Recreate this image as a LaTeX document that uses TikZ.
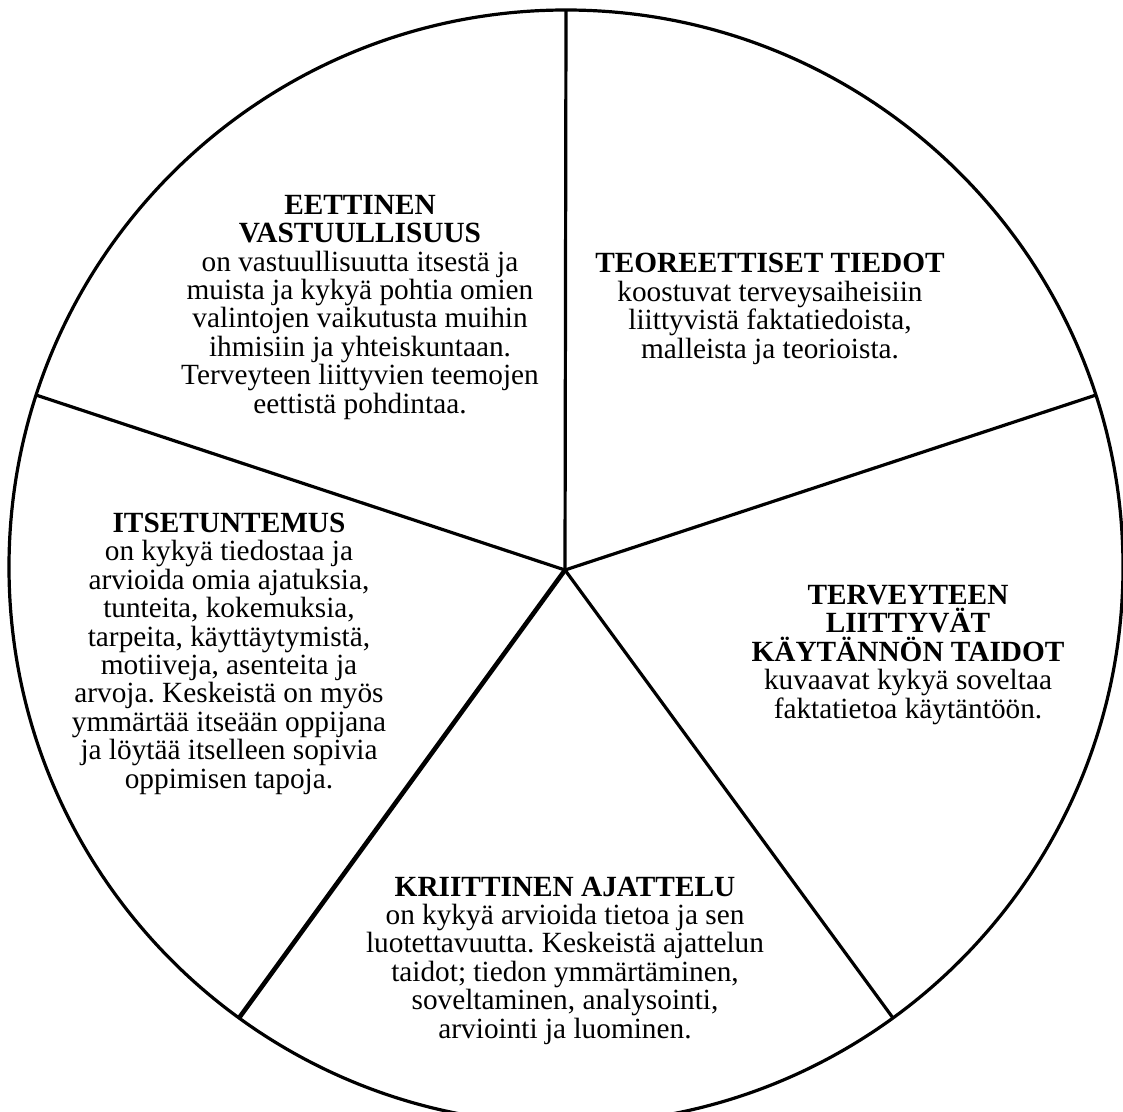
\documentclass[tikz,border=0pt]{standalone}
\usepackage{fontspec}
\setmainfont{Liberation Serif}
\frenchspacing
\begin{document}
\begin{tikzpicture}[x=1pt,y=-1pt,line width=3.2pt,
  lbl/.style={align=center,anchor=base,inner sep=0pt,font=\fontsize{29.3}{28.4}\selectfont}]
\useasboundingbox (0,0) rectangle (1123,1111);
\clip (0,0) rectangle (1123,1111);
\coordinate (O) at (566,567);
\coordinate (H) at (565,570);
\coordinate (P1) at (566,10);
\coordinate (P2) at (1096,395);
\coordinate (P3) at (893,1018);
\coordinate (P4) at (239,1018);
\coordinate (P5) at (36,395);
\draw (O) circle[radius=557];
\draw (H) -- (P1);
\draw (H) -- (P2);
\draw (H) -- (P3);
\draw[line width=4.6pt] (H) -- (P4);
\draw (H) -- (P5);
\node[lbl] (eet) at (360,413) {\textbf{EETTINEN}\\\textbf{VASTUULLISUUS}\\on vastuullisuutta itsestä ja\\muista ja kykyä pohtia omien\\valintojen vaikutusta muihin\\ihmisiin ja yhteiskuntaan.\\Terveyteen liittyvien teemojen\\eettistä pohdintaa.};
\node[lbl] (teo) at (770,358) {\textbf{TEOREETTISET TIEDOT}\\koostuvat terveysaiheisiin\\liittyvistä faktatiedoista,\\malleista ja teorioista.};
\node[lbl] (ter) at (908,718) {\textbf{TERVEYTEEN}\\\textbf{LIITTYVÄT}\\\textbf{KÄYTÄNNÖN TAIDOT}\\kuvaavat kykyä soveltaa\\faktatietoa käytäntöön.};
\node[lbl] (kri) at (565,1038) {\textbf{KRIITTINEN AJATTELU}\\on kykyä arvioida tietoa ja sen\\luotettavuutta. Keskeistä ajattelun\\taidot; tiedon ymmärtäminen,\\soveltaminen, analysointi,\\arviointi ja luominen.};
\node[lbl] (its) at (229,788) {\textbf{ITSETUNTEMUS}\\on kykyä tiedostaa ja\\arvioida omia ajatuksia,\\tunteita, kokemuksia,\\tarpeita, käyttäytymistä,\\motiiveja, asenteita ja\\arvoja. Keskeistä on myös\\ymmärtää itseään oppijana\\ja löytää itselleen sopivia\\oppimisen tapoja.};
\end{tikzpicture}
\end{document}
